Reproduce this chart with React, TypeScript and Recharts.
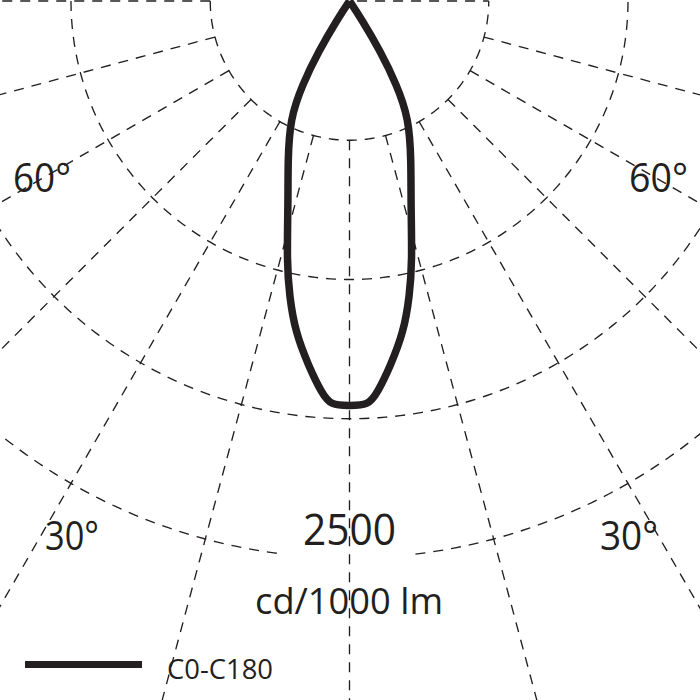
import React from 'react';
import { ComposedChart, Line, XAxis, YAxis } from 'recharts';

// ---- data ----
// gamma angles (deg from nadir) and luminous intensity, cd/1000 lm, C0-C180 plane (symmetric)
const gammaAngles = [0, 2.6, 4.1, 6.4, 9.3, 11.5, 13.5, 17, 21, 26.8, 29.4, 31.6, 33.6, 35, 45, 60, 75, 90];
const intensityC0C180 = [1815, 1818, 1762, 1648, 1505, 1352, 1205, 942, 772, 592, 430, 265, 92, 0, 0, 0, 0, 0];

// polar grid
const ringValues = [625, 1250, 1875, 2500];
const spokeAngles = [-75, -60, -45, -30, -15, 0, 15, 30, 45, 60, 75];
const ringLabel = '2500';
const unitLabel = 'cd/1000 lm';
const seriesName = 'C0-C180';

// ---- layout ----
const W = 700;
const H = 700;
const CENTER = { x: 349.5, y: 1 };
const PX_PER_CD = 557 / 2500;
const xDomain = [-CENTER.x / PX_PER_CD, (W - CENTER.x) / PX_PER_CD];
const yDomain = [-(H - CENTER.y) / PX_PER_CD, CENTER.y / PX_PER_CD];
const FAR = 4000;
const INK = '#231f20';
const FONT = "'Open Sans', 'DejaVu Sans', sans-serif";

const rad = (d: number) => (d * Math.PI) / 180;
const polar = (angleDeg: number, value: number) => ({
  x: value * Math.sin(rad(angleDeg)),
  y: -value * Math.cos(rad(angleDeg)),
});

// keep points up to (and including) the first zero on each half: beyond it all points sit at the centre
const firstZero = intensityC0C180.indexOf(0);
const halfAngles = gammaAngles.slice(0, firstZero + 1);
const halfValues = intensityC0C180.slice(0, firstZero + 1);

// curve: C180 half (left) then C0 half (right)
const curveData = [
  ...halfAngles.map((a, i) => polar(-a, halfValues[i])).reverse(),
  ...halfAngles.slice(1).map((a, i) => polar(a, halfValues[i + 1])),
];

const arc = (value: number, from: number, to: number) => {
  const pts = [];
  const n = Math.max(2, Math.round(Math.abs(to - from)));
  for (let k = 0; k <= n; k++) pts.push(polar(from + ((to - from) * k) / n, value));
  return pts;
};

const ringArcs: { key: string; data: { x: number; y: number }[] }[] = [];
ringValues.forEach((v, i) => {
  if (i === ringValues.length - 1) {
    ringArcs.push({ key: `r${v}a`, data: arc(v, -90, -6.8) });
    ringArcs.push({ key: `r${v}b`, data: arc(v, 6.8, 90) });
  } else {
    ringArcs.push({ key: `r${v}`, data: arc(v, -90, 90) });
  }
});

const spokes = [
  ...spokeAngles.map((a) => ({ key: `s${a}`, data: [polar(a, ringValues[0]), polar(a, FAR)] })),
  { key: 's-90', data: [polar(-90, ringValues[0]), polar(-90, FAR)] },
  { key: 's90', data: [polar(90, 34), polar(90, ringValues[0])] },
];

const gridProps = {
  stroke: INK,
  strokeWidth: 1.35,
  strokeDasharray: '10 8',
  dot: false,
  activeDot: false,
  isAnimationActive: false,
  dataKey: 'y',
  legendType: 'none' as const,
};

const labels = [
  { text: '60°', x: 13, y: 192, len: 58, size: 40 },
  { text: '60°', x: 629, y: 192, len: 59, size: 40 },
  { text: '30°', x: 45, y: 550, len: 54, size: 40 },
  { text: '30°', x: 600, y: 550, len: 58, size: 40 },
  { text: ringLabel, x: 303, y: 545, len: 93, size: 44 },
  { text: unitLabel, x: 255, y: 614, len: 188, size: 36 },
];

export default function App() {
  return (
    <div style={{ position: 'absolute', left: 0, top: 0, width: W, height: H, background: '#fff' }}>
      <ComposedChart width={W} height={H} margin={{ top: 0, right: 0, bottom: 0, left: 0 }}>
        <XAxis type="number" dataKey="x" domain={xDomain} allowDataOverflow hide />
        <YAxis type="number" dataKey="y" domain={yDomain} allowDataOverflow hide />
        {ringArcs.map((r) => (
          <Line key={r.key} data={r.data} {...gridProps} />
        ))}
        {spokes.map((s) => (
          <Line key={s.key} data={s.data} {...gridProps} />
        ))}
        <Line
          data={curveData}
          dataKey="y"
          type="basis"
          name={seriesName}
          stroke={INK}
          strokeWidth={7.5}
          strokeLinejoin="round"
          dot={false}
          activeDot={false}
          isAnimationActive={false}
        />
      </ComposedChart>
      <svg
        width={W}
        height={H}
        style={{ position: 'absolute', left: 0, top: 0, pointerEvents: 'none' }}
      >
        {labels.map((l, i) => (
          <text
            key={i}
            x={l.x}
            y={l.y}
            fontSize={l.size}
            fontFamily={FONT}
            fill={INK}
            textLength={l.len}
            lengthAdjust="spacingAndGlyphs"
          >
            {l.text}
          </text>
        ))}
        <line x1={25} y1={664.5} x2={142} y2={664.5} stroke={INK} strokeWidth={7} />
        <text
          x={167}
          y={679}
          fontSize={28}
          fontFamily={FONT}
          fill={INK}
          textLength={106}
          lengthAdjust="spacingAndGlyphs"
        >
          {seriesName}
        </text>
      </svg>
    </div>
  );
}
